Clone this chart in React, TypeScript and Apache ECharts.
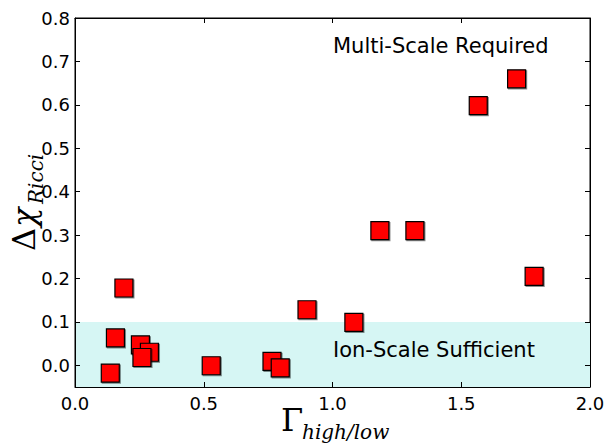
import React, { useEffect, useRef } from "react";
import * as echarts from "echarts";

const gammaValues = [0.137, 0.19, 0.157, 0.254, 0.289, 0.26, 0.529, 0.765, 0.797, 0.901, 1.083, 1.184, 1.32, 1.566, 1.715, 1.783];
const deltaChiValues = [-0.018, 0.178, 0.063, 0.047, 0.03, 0.018, -0.001, 0.009, -0.006, 0.128, 0.099, 0.31, 0.31, 0.598, 0.66, 0.205];
const yTicks = [0, 0.1, 0.2, 0.3, 0.4, 0.5, 0.6, 0.7, 0.8];
const thresholdBand = [-0.05, 0.1];
const upperLabel = "Multi-Scale Required";
const lowerLabel = "Ion-Scale Sufficient";

export default function App() {
  const ref = useRef<HTMLDivElement>(null);
  useEffect(() => {
    if (!ref.current) return;
    const chart = echarts.init(ref.current, null, { renderer: "svg" });
    const points = gammaValues.map((g, i) => [g, deltaChiValues[i]]);
    const tickFont = () => ({ fontFamily: "DejaVu Sans", fontSize: 18, color: "#000" });
    const axisLine = () => ({ show: true, onZero: false, lineStyle: { color: "#000", width: 1 } });
    const tick = () => ({ show: true, inside: true, length: 5, lineStyle: { color: "#000", width: 1 } });
    chart.setOption({
      animation: false,
      backgroundColor: "#fff",
      grid: { left: 75, top: 18, width: 515, height: 369, show: true, borderColor: "#000", borderWidth: 1, backgroundColor: "transparent" },
      xAxis: [
        {
          type: "value",
          min: 0,
          max: 2,
          interval: 0.5,
          position: "bottom",
          splitLine: { show: false },
          axisLine: axisLine(),
          axisTick: tick(),
          axisLabel: { ...tickFont(), margin: 7, formatter: (v: number) => v.toFixed(1) },
          z: 5,
        },
        {
          type: "value",
          min: 0,
          max: 2,
          interval: 0.5,
          position: "top",
          splitLine: { show: false },
          axisLine: axisLine(),
          axisTick: tick(),
          axisLabel: { show: false },
          z: 5,
        },
      ],
      yAxis: [
        {
          type: "value",
          min: -0.05,
          max: 0.8,
          position: "left",
          splitLine: { show: false },
          axisLine: axisLine(),
          axisTick: { ...tick(), customValues: yTicks },
          axisLabel: { ...tickFont(), margin: 5, customValues: yTicks, formatter: (v: number) => v.toFixed(1) },
          z: 5,
        },
        {
          type: "value",
          min: -0.05,
          max: 0.8,
          position: "right",
          splitLine: { show: false },
          axisLine: axisLine(),
          axisTick: { ...tick(), customValues: yTicks },
          axisLabel: { show: false },
          z: 5,
        },
      ],
      series: [
        {
          type: "scatter",
          xAxisIndex: 0,
          yAxisIndex: 0,
          data: points,
          symbol: "rect",
          symbolSize: 18,
          itemStyle: {
            color: "#ff0000",
            borderColor: "#000",
            borderWidth: 1.2,
            opacity: 1,
            shadowColor: "rgba(0,0,0,0.45)",
            shadowOffsetX: 1,
            shadowOffsetY: 1,
            shadowBlur: 1,
          },
          markArea: {
            silent: true,
            itemStyle: { color: "#d6f6f4" },
            data: [[{ xAxis: 0, yAxis: thresholdBand[0] }, { xAxis: 2, yAxis: thresholdBand[1] }]],
          },
          z: 3,
        },
      ],
      graphic: [
        {
          type: "text",
          left: 333,
          top: 35,
          style: { text: upperLabel, fontFamily: "DejaVu Sans", fontSize: 21, fill: "#000" },
          z: 10,
        },
        {
          type: "text",
          left: 333,
          top: 339,
          style: { text: lowerLabel, fontFamily: "DejaVu Sans", fontSize: 21, fill: "#000" },
          z: 10,
        },
        {
          type: "text",
          x: 281,
          y: 420,
          style: { text: "Γ", fontFamily: "DejaVu Serif", fontSize: 32, fill: "#000", verticalAlign: "middle", align: "left" },
        },
        {
          type: "text",
          x: 302,
          y: 432,
          style: { text: "high/low", fontFamily: "DejaVu Serif", fontStyle: "italic", fontSize: 20, fill: "#000", verticalAlign: "middle", align: "left" },
        },
        {
          type: "group",
          x: 24,
          y: 251,
          rotation: Math.PI / 2,
          children: [
            {
              type: "text",
              x: 0,
              y: 0,
              style: { text: "Δ", fontFamily: "DejaVu Serif", fontSize: 32, fill: "#000", verticalAlign: "middle", align: "left" },
            },
            {
              type: "text",
              x: 24,
              y: 0,
              style: { text: "χ", fontFamily: "DejaVu Serif", fontStyle: "italic", fontSize: 32, fill: "#000", verticalAlign: "middle", align: "left" },
            },
            {
              type: "text",
              x: 47,
              y: 12,
              style: { text: "Ricci", fontFamily: "DejaVu Serif", fontStyle: "italic", fontSize: 20, fill: "#000", verticalAlign: "middle", align: "left" },
            },
          ],
        },
      ],
    });
    return () => chart.dispose();
  }, []);
  return <div ref={ref} style={{ width: 614, height: 443, position: "absolute", left: 0, top: 0 }} />;
}
